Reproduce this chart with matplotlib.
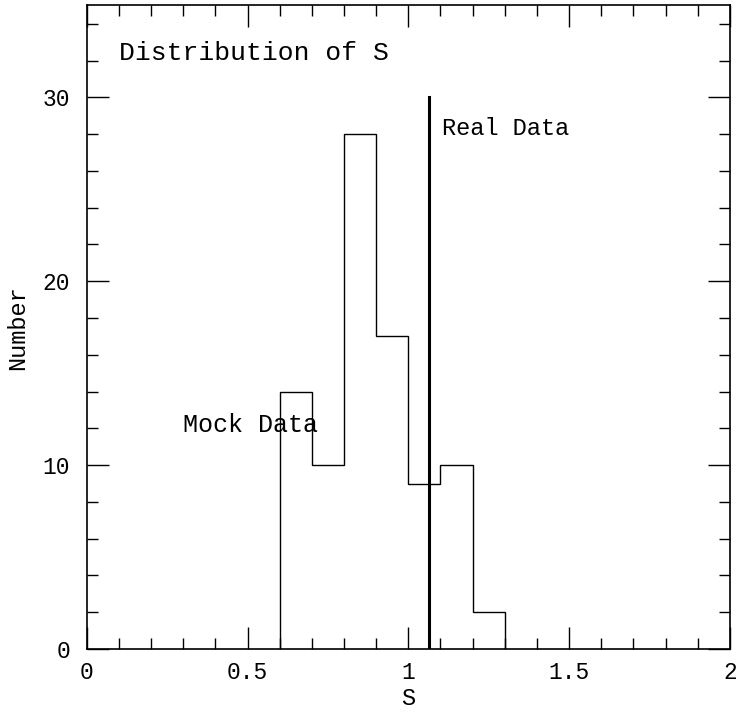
import numpy as np
import matplotlib.pyplot as plt

plt.rcParams['font.family'] = ['Liberation Mono', 'DejaVu Sans Mono']

# histogram of S (mock data)
bin_edges = [0.6, 0.7, 0.8, 0.9, 1.0, 1.1, 1.2, 1.3]
counts = [14, 10, 28, 17, 9, 10, 2]
real_s = 1.065
real_top = 30

fig = plt.figure(figsize=(7.36, 7.13), dpi=100)
ax = fig.add_axes([0.1178, 0.0898, 0.874, 0.9025])

ax.stairs(counts, bin_edges, baseline=0, color='black', linewidth=1.0)
ax.plot([real_s, real_s], [0, real_top], color='black', linewidth=2.2)

ax.set_xlim(0, 2)
ax.set_ylim(0, 35)
ax.set_xticks([0, 0.5, 1, 1.5, 2])
ax.set_xticklabels(['0', '0.5', '1', '1.5', '2'])
ax.set_xticks(np.arange(0, 2.01, 0.1), minor=True)
ax.set_yticks([0, 10, 20, 30])
ax.set_yticks(np.arange(0, 35.1, 2), minor=True)
ax.tick_params(which='both', direction='in', top=True, right=True, labelsize=16.5, width=1)
ax.tick_params(which='major', length=16)
ax.tick_params(axis='y', which='major', pad=12)
ax.tick_params(axis='x', which='major', pad=9)
ax.tick_params(which='minor', length=8)
for s in ax.spines.values():
    s.set_linewidth(1.2)

ax.set_xlabel('S', fontsize=17, labelpad=2)
ax.set_ylabel('Number', fontsize=17, labelpad=10)

ax.text(0.10, 32.4, 'Distribution of S', fontsize=19, va='center')
ax.text(1.105, 28.3, 'Real Data', fontsize=17, va='center')
ax.text(0.30, 12.2, 'Mock Data', fontsize=18, va='center')

fig.savefig('out.png', dpi=100)
